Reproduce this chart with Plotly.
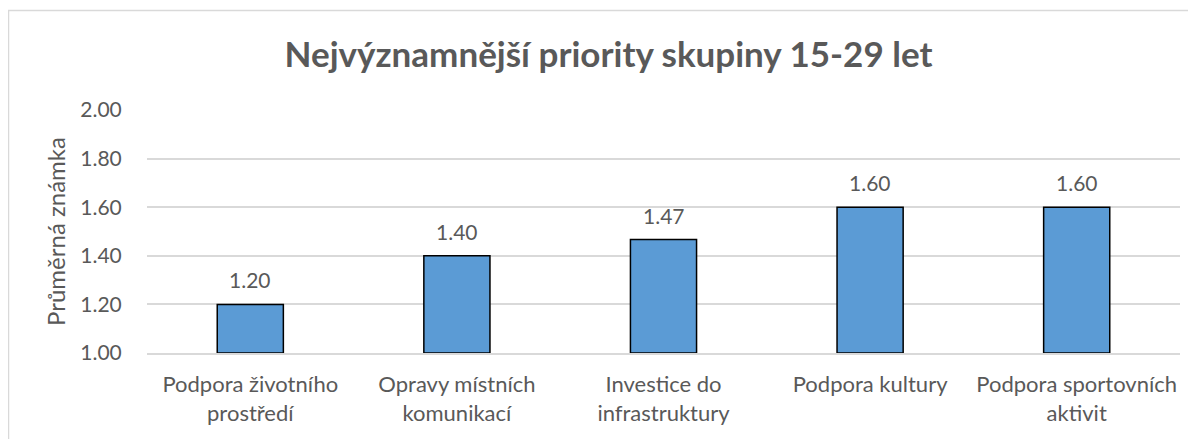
import plotly.graph_objects as go

categories = ["Podpora životního<br>prostředí", "Opravy místních<br>komunikací",
              "Investice do<br>infrastruktury", "Podpora kultury",
              "Podpora sportovních<br>aktivit"]
values = [1.20, 1.40, 1.4667, 1.60, 1.60]
y_ticks = [1.0, 1.2, 1.4, 1.6, 1.8, 2.0]
title_text = "Nejvýznamnější priority skupiny 15-29 let"
y_title = "Průměrná známka"

# page has an 8px body margin; figure coordinates are offset by it
W, H = 1196, 439
ML, MR, MT, MB = 139, 24, 102, 94
FONT = "Lato"
TXT = "#595959"
GRID = "#D9D9D9"

fig = go.Figure()
fig.add_trace(go.Bar(
    x=categories, y=[v - 1.0 for v in values], base=1.0,
    marker=dict(color="#5B9BD5", line=dict(color="#000000", width=1.5)),
    width=0.32, hoverinfo="skip",
))

for c, v in zip(categories, values):
    fig.add_annotation(x=c, y=v, text=f"{v:.2f}", showarrow=False,
                       yanchor="bottom", yshift=10,
                       font=dict(family=FONT, size=21, color=TXT))

pw = W - ML - MR
ph = H - MT - MB
fig.add_shape(type="rect", xref="paper", yref="paper",
              x0=(0.5 - ML) / pw, x1=(W + 20 - ML) / pw,
              y0=-(H + 20 - MT - ph) / ph, y1=(H - 2.5 - MB) / ph,
              line=dict(color=GRID, width=1.5), layer="below")

fig.update_layout(
    width=W, height=H,
    margin=dict(l=ML, r=MR, t=MT, b=MB),
    paper_bgcolor="white", plot_bgcolor="white",
    showlegend=False,
    title=dict(text=f"<b>{title_text}</b>", x=600.5 / W, xanchor="center",
               y=1 - 47 / H, yanchor="middle",
               font=dict(family=FONT, size=35, color=TXT)),
    font=dict(family=FONT, color=TXT),
    bargap=0.68,
)
fig.update_xaxes(showgrid=False, showline=True, linecolor=GRID, linewidth=1.5,
                 tickfont=dict(family=FONT, size=22, color=TXT),
                 ticks="outside", ticklen=11, tickcolor="rgba(0,0,0,0)")
fig.update_yaxes(range=[1.0, 2.0], tickvals=y_ticks, tickformat=".2f",
                 showgrid=True, gridcolor=GRID, gridwidth=1.5,
                 zeroline=False, showline=False,
                 tickfont=dict(family=FONT, size=21, color=TXT),
                 ticks="outside", ticklen=20, tickcolor="rgba(0,0,0,0)",
                 title=dict(text=y_title, standoff=7,
                            font=dict(family=FONT, size=24, color=TXT)))

fig.write_html("out.html")
